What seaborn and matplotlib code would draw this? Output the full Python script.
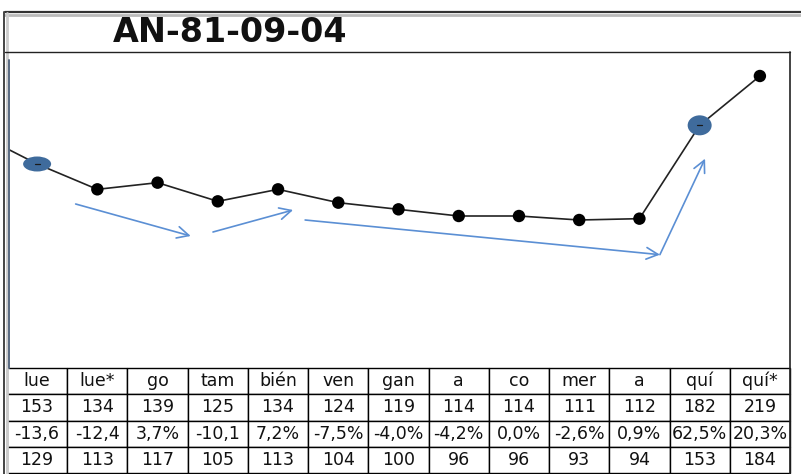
import matplotlib
matplotlib.use("Agg")
import matplotlib.pyplot as plt
from matplotlib.patches import Ellipse
from matplotlib.lines import Line2D
import seaborn as sns
import pandas as pd

sns.set_theme(style="white")
plt.rcParams["font.family"] = ["DejaVu Sans"]

title = "AN-81-09-04"
labels = ["lue", "lue*", "go", "tam", "bién", "ven", "gan", "a", "co", "mer", "a", "quí", "quí*"]
values = [153, 134, 139, 125, 134, 124, 119, 114, 114, 111, 112, 182, 219]
changes = ["-13,6", "-12,4", "3,7%", "-10,1", "7,2%", "-7,5%", "-4,0%", "-4,2%", "0,0%", "-2,6%", "0,9%", "62,5%", "20,3%"]
adjusted = [129, 113, 117, 105, 113, 104, 100, 96, 96, 93, 94, 153, 184]
lead_in = 176  # value of the period before the first column, runs off the left edge
highlighted = [0, 11]

W, H = 801, 474
fig = plt.figure(figsize=(W / 100, H / 100), dpi=100)

def fx(px):
    return px / W

def fy(py):
    return 1 - py / H

left, right = 7, 790
top, bottom = 52, 368
ax = fig.add_axes([fx(left), fy(bottom), fx(right - left), fy(top) - fy(bottom)])

df = pd.DataFrame({"pos": list(range(len(values))), "value": values, "label": labels})
line_df = pd.DataFrame({"pos": [-1] + df["pos"].tolist(), "value": [lead_in] + values})

sns.lineplot(data=line_df, x="pos", y="value", ax=ax, color="#222222", lw=1.2, zorder=2)
sns.scatterplot(data=df, x="pos", y="value", ax=ax, color="black", s=80,
                edgecolor="none", zorder=3)

ax.set_xlim(-0.5, len(values) - 0.5)
ax.set_ylim(0, 237)
ax.set_xlabel("")
ax.set_ylabel("")
ax.set_xticks([])
ax.set_yticks([])
for name, sp in ax.spines.items():
    sp.set_visible(False)

# highlighted points as filled ellipses
col_px = (right - left) / len(values)
px_per_unit = (bottom - top) / 237
for i, (w, h) in zip(highlighted, [(28, 15), (24, 20)]):
    e = Ellipse((i, values[i]), width=w / col_px, height=h / px_per_unit,
                facecolor="#3f6b9c", edgecolor="none", zorder=4)
    ax.add_patch(e)
    ax.plot([i - 0.04, i + 0.04], [values[i], values[i]], color="#1a1a1a", lw=0.9, zorder=5)

# trend arrows
arrow_color = "#5b8fd4"
arrows = [((0.64, 123), (2.55, 99)),
          ((2.92, 102), (4.25, 118.5)),
          ((4.45, 111), (10.34, 85)),
          ((10.34, 85), (11.09, 157))]
for (x0, y0), (x1, y1) in arrows:
    ax.annotate("", xy=(x1, y1), xytext=(x0, y0),
                arrowprops=dict(arrowstyle="->,head_length=0.7,head_width=0.35",
                                color=arrow_color, lw=1.2, shrinkA=0, shrinkB=0),
                zorder=3)

# data table below the chart
tax = fig.add_axes([fx(left), fy(473), fx(right - left), fy(bottom) - fy(473)])
tax.axis("off")
cells = [labels, [str(v) for v in values], changes, [str(v) for v in adjusted]]
tbl = tax.table(cellText=cells, cellLoc="center", bbox=[0, 0, 1, 1])
tbl.auto_set_font_size(False)
for (r, c), cell in tbl.get_celld().items():
    cell.set_edgecolor("black")
    cell.set_linewidth(1.0)
    cell.set_facecolor("white")
    cell.get_text().set_fontsize(12.5)
    cell.get_text().set_color("#111111")

# frame and title band
fig.add_artist(Line2D([fx(5), 1], [fy(12), fy(12)], color="#333333", lw=1.6))
fig.add_artist(Line2D([fx(5), 1], [fy(14.5), fy(14.5)], color="#bbbbbb", lw=2))
fig.add_artist(Line2D([fx(4), fx(4)], [fy(12), 0], color="#444444", lw=1.4))
fig.add_artist(Line2D([fx(6.5), fx(6.5)], [fy(13), 0], color="#cccccc", lw=2))
fig.add_artist(Line2D([fx(5), fx(right)], [fy(top), fy(top)], color="#222222", lw=1.0))
fig.add_artist(Line2D([fx(right), fx(right)], [fy(top), 0], color="#222222", lw=1.2))
fig.add_artist(Line2D([fx(9), fx(9)], [fy(60), fy(bottom)], color="#5a6b82", lw=1.4))

fig.text(fx(230), fy(33), title, ha="center", va="center", fontsize=24,
         fontweight="bold", color="#111111")

fig.savefig("out.png", dpi=100)
